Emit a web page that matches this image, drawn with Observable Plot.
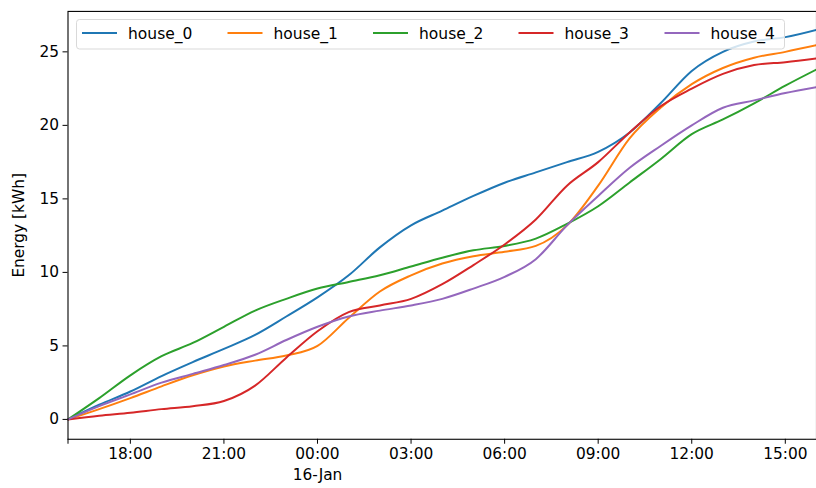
<!DOCTYPE html>
<html>
<head>
<meta charset="utf-8">
<script src="https://cdn.jsdelivr.net/npm/d3@7"></script>
<script src="https://cdn.jsdelivr.net/npm/@observablehq/plot@0.6"></script>
<style>
  html, body { margin: 0; padding: 0; background: #fff; }
  #wrap { position: relative; width: 816px; height: 488px; overflow: hidden; }
  #wrap svg { position: absolute; left: 0; top: 0; }
</style>
</head>
<body>
<div id="wrap"></div>
<script>
const times = [
  "2024-01-15T16:00Z","2024-01-15T17:00Z","2024-01-15T18:00Z","2024-01-15T19:00Z",
  "2024-01-15T20:00Z","2024-01-15T21:00Z","2024-01-15T22:00Z","2024-01-15T23:00Z",
  "2024-01-16T00:00Z","2024-01-16T01:00Z","2024-01-16T02:00Z","2024-01-16T03:00Z",
  "2024-01-16T04:00Z","2024-01-16T05:00Z","2024-01-16T06:00Z","2024-01-16T07:00Z",
  "2024-01-16T08:00Z","2024-01-16T09:00Z","2024-01-16T10:00Z","2024-01-16T11:00Z",
  "2024-01-16T12:00Z","2024-01-16T13:00Z","2024-01-16T14:00Z","2024-01-16T15:00Z",
  "2024-01-16T16:00Z"
];
const seriesNames = ["house_0","house_1","house_2","house_3","house_4"];
const colors = ["#1f77b4","#ff7f0e","#2ca02c","#d62728","#9467bd"];
const house_0 = [0, 1.0, 1.9, 2.95, 3.9, 4.8, 5.75, 7.0, 8.3, 9.8, 11.7, 13.2, 14.2, 15.2, 16.1, 16.8, 17.5, 18.2, 19.5, 21.5, 23.7, 25.0, 25.7, 26.0, 26.5];
const house_1 = [0, 0.7, 1.45, 2.25, 3.0, 3.6, 4.0, 4.35, 5.0, 6.9, 8.7, 9.8, 10.6, 11.1, 11.4, 11.8, 13.2, 15.9, 19.1, 21.2, 22.8, 23.9, 24.6, 25.0, 25.45];
const house_2 = [0, 1.45, 3.0, 4.3, 5.2, 6.3, 7.4, 8.2, 8.9, 9.35, 9.8, 10.4, 11.0, 11.5, 11.8, 12.3, 13.3, 14.5, 16.1, 17.7, 19.4, 20.4, 21.5, 22.7, 23.8];
const house_3 = [0, 0.25, 0.45, 0.7, 0.9, 1.25, 2.3, 4.2, 6.0, 7.3, 7.75, 8.2, 9.2, 10.5, 11.9, 13.6, 15.9, 17.5, 19.5, 21.3, 22.5, 23.5, 24.1, 24.3, 24.55];
const house_4 = [0, 0.9, 1.7, 2.5, 3.1, 3.7, 4.4, 5.4, 6.3, 7.0, 7.4, 7.75, 8.2, 8.9, 9.7, 10.9, 13.2, 15.2, 17.1, 18.6, 20.0, 21.2, 21.7, 22.2, 22.6];
const yTicks = [0, 5, 10, 15, 20, 25];
const xTickLabels = ["2024-01-15T18:00Z","2024-01-15T21:00Z","2024-01-16T00:00Z","2024-01-16T03:00Z","2024-01-16T06:00Z","2024-01-16T09:00Z","2024-01-16T12:00Z","2024-01-16T15:00Z"];
const dateTick = "2024-01-16T00:00Z";
const dateLabel = "16-Jan";
const yLabel = "Energy [kWh]";

const allSeries = [house_0, house_1, house_2, house_3, house_4];
const rows = [];
allSeries.forEach((vals, si) => {
  vals.forEach((v, i) => rows.push({t: new Date(times[i]), v, s: seriesNames[si]}));
});
const xTicks = xTickLabels.map(d => new Date(d));
const fmt = d3.utcFormat("%H:%M");

const FONT = "DejaVu Sans";
const chart = Plot.plot({
  width: 822,
  height: 488,
  marginLeft: 68,
  marginRight: 0,
  marginTop: 11,
  marginBottom: 46,
  style: {fontFamily: FONT, fontSize: "15.5px", color: "#000", background: "transparent"},
  x: {type: "utc", domain: [new Date(times[0]), new Date(times[times.length - 1])]},
  y: {domain: [-1.35, 27.75]},
  color: {domain: seriesNames, range: colors},
  marks: [
    Plot.line(rows, {x: "t", y: "v", z: "s", stroke: "s", strokeWidth: 2, curve: "monotone-x", clip: true}),
    Plot.frame({stroke: "#000", strokeWidth: 1.1}),
    Plot.axisY({ticks: yTicks, tickSize: 5, tickPadding: 4, tickFormat: d => String(d), label: yLabel, labelAnchor: "center", labelArrow: "none", labelOffset: 55.5, fontSize: 15.5}),
    Plot.axisX({ticks: xTicks, tickSize: 5, tickPadding: 4, tickFormat: fmt, label: null, fontSize: 15.5}),
    Plot.axisX({ticks: [new Date(dateTick)], tickSize: 0, tickPadding: 30, tickFormat: () => dateLabel, label: null, fontSize: 15.5}),
    Plot.axisX({ticks: [new Date(times[0])], tickSize: 5, tickFormat: () => "", label: null})
  ]
});
const wrap = document.getElementById("wrap");
wrap.appendChild(chart);

// Legend overlay
const leg = d3.select(wrap).append("svg")
  .attr("width", 816).attr("height", 488)
  .style("pointer-events", "none");
leg.append("rect")
  .attr("x", 76.5).attr("y", 19.5).attr("width", 708).attr("height", 29.5)
  .attr("rx", 3).attr("fill", "rgba(255,255,255,0.8)").attr("stroke", "#d9d9d9").attr("stroke-width", 1);
const itemX = [82, 227.5, 373, 518.5, 664.5];
seriesNames.forEach((name, i) => {
  const g = leg.append("g").attr("transform", `translate(${itemX[i]},0)`);
  g.append("line").attr("x1", 0).attr("x2", 35).attr("y1", 33).attr("y2", 33)
    .attr("stroke", colors[i]).attr("stroke-width", 2);
  g.append("text").attr("x", 46).attr("y", 39).text(name)
    .attr("font-family", FONT).attr("font-size", "15.5px").attr("fill", "#000");
});
</script>
</body>
</html>
